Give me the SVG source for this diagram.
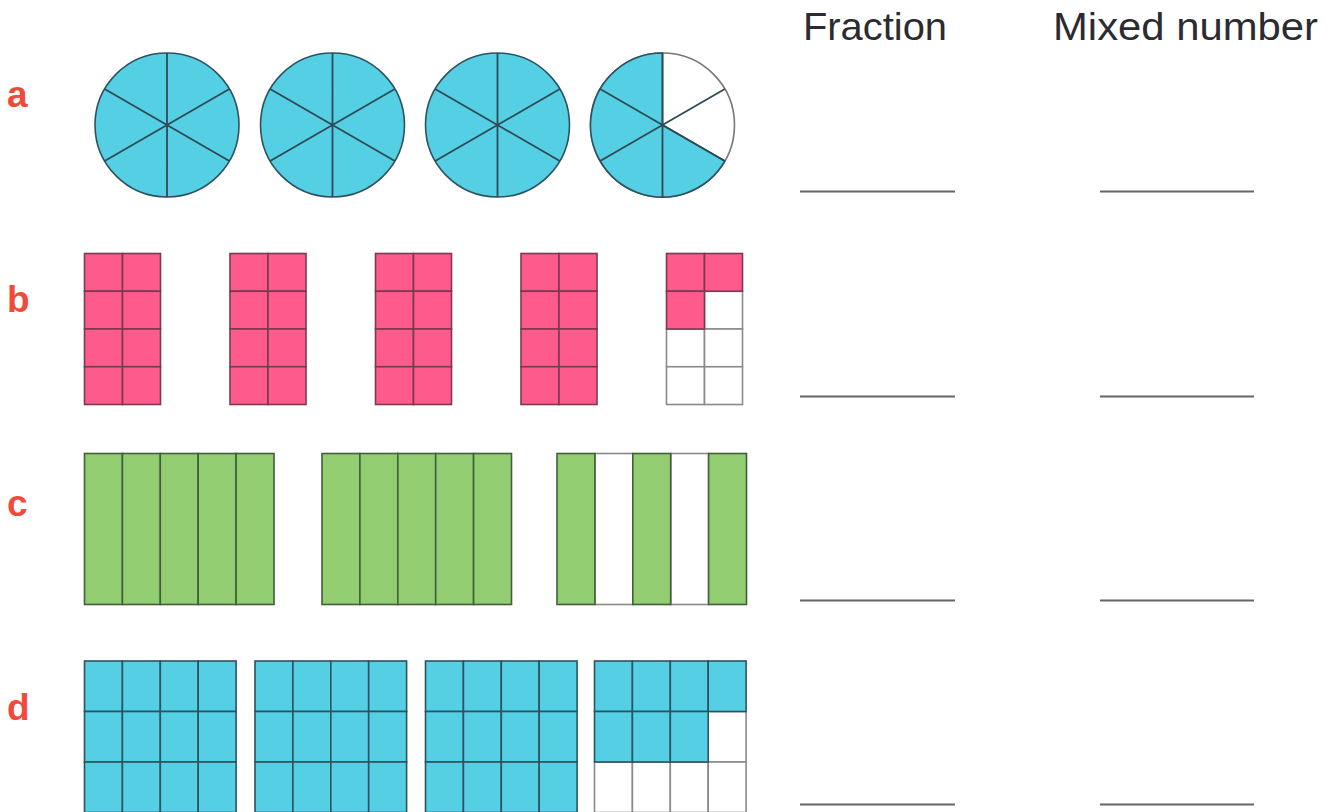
<svg xmlns="http://www.w3.org/2000/svg" width="1335" height="812" viewBox="0 0 1335 812">
<style>
.lbl{font-family:"Liberation Sans",Arial,sans-serif;font-weight:bold;font-size:37px;fill:#f24a3a}
.hdr{font-family:"Liberation Sans",Arial,sans-serif;font-size:39px;fill:#2b2b30}
.bl{fill:#55cfe3;stroke:#2d5361;stroke-width:1.6}
.pk{fill:#fe5a8c;stroke:#7b3a52;stroke-width:1.6}
.gr{fill:#92cd72;stroke:#41603a;stroke-width:1.6}
.wh{fill:#ffffff;stroke:#8a8a8a;stroke-width:1.6}
.sp{stroke:#2d4a55;stroke-width:1.8;fill:none}
.ul{stroke:#666;stroke-width:2}
</style>
<rect width="1335" height="812" fill="#fff"/>
<g id="headers">
<text class="hdr" x="803" y="40" textLength="144" lengthAdjust="spacingAndGlyphs">Fraction</text>
<text class="hdr" x="1053" y="40" textLength="265" lengthAdjust="spacingAndGlyphs">Mixed number</text>
</g>
<g id="labels">
<text class="lbl" x="7" y="107">a</text>
<text class="lbl" x="7" y="312">b</text>
<text class="lbl" x="7" y="516">c</text>
<text class="lbl" x="7" y="720">d</text>
</g>
<g id="row-a">
<g id="a1"><circle class="bl" cx="167" cy="125" r="72"/><path class="sp" d="M167 53V197M104.65 89L229.35 161M104.65 161L229.35 89"/></g>
<g id="a2"><circle class="bl" cx="332.5" cy="125" r="72"/><path class="sp" d="M332.5 53V197M270.15 89L394.85 161M270.15 161L394.85 89"/></g>
<g id="a3"><circle class="bl" cx="497.5" cy="125" r="72"/><path class="sp" d="M497.5 53V197M435.15 89L559.85 161M435.15 161L559.85 89"/></g>
<g id="a4"><circle cx="662.5" cy="125" r="72" fill="#fff" stroke="#777" stroke-width="1.6"/><path class="bl" d="M662.5 125L724.85 161A72 72 0 1 1 662.5 53Z"/><path class="sp" d="M662.5 53V197M600.15 89L724.85 161M600.15 161L724.85 89"/></g>
</g>
<g id="row-b">
<g id="b1" class="pk" transform="translate(84.5 253.5)"><rect width="38" height="37.75"/><rect x="38" width="38" height="37.75"/><rect y="37.75" width="38" height="37.75"/><rect x="38" y="37.75" width="38" height="37.75"/><rect y="75.5" width="38" height="37.75"/><rect x="38" y="75.5" width="38" height="37.75"/><rect y="113.25" width="38" height="37.75"/><rect x="38" y="113.25" width="38" height="37.75"/></g>
<g id="b2" class="pk" transform="translate(230 253.5)"><rect width="38" height="37.75"/><rect x="38" width="38" height="37.75"/><rect y="37.75" width="38" height="37.75"/><rect x="38" y="37.75" width="38" height="37.75"/><rect y="75.5" width="38" height="37.75"/><rect x="38" y="75.5" width="38" height="37.75"/><rect y="113.25" width="38" height="37.75"/><rect x="38" y="113.25" width="38" height="37.75"/></g>
<g id="b3" class="pk" transform="translate(375.5 253.5)"><rect width="38" height="37.75"/><rect x="38" width="38" height="37.75"/><rect y="37.75" width="38" height="37.75"/><rect x="38" y="37.75" width="38" height="37.75"/><rect y="75.5" width="38" height="37.75"/><rect x="38" y="75.5" width="38" height="37.75"/><rect y="113.25" width="38" height="37.75"/><rect x="38" y="113.25" width="38" height="37.75"/></g>
<g id="b4" class="pk" transform="translate(521 253.5)"><rect width="38" height="37.75"/><rect x="38" width="38" height="37.75"/><rect y="37.75" width="38" height="37.75"/><rect x="38" y="37.75" width="38" height="37.75"/><rect y="75.5" width="38" height="37.75"/><rect x="38" y="75.5" width="38" height="37.75"/><rect y="113.25" width="38" height="37.75"/><rect x="38" y="113.25" width="38" height="37.75"/></g>
<g id="b5" transform="translate(666.5 253.5)"><rect class="wh" x="38" y="37.75" width="38" height="37.75"/><rect class="wh" y="75.5" width="38" height="37.75"/><rect class="wh" x="38" y="75.5" width="38" height="37.75"/><rect class="wh" y="113.25" width="38" height="37.75"/><rect class="wh" x="38" y="113.25" width="38" height="37.75"/><rect class="pk" width="38" height="37.75"/><rect class="pk" x="38" width="38" height="37.75"/><rect class="pk" y="37.75" width="38" height="37.75"/></g>
</g>
<g id="row-c">
<g id="c1" class="gr" transform="translate(84.5 453.5)"><rect width="37.9" height="151"/><rect x="37.9" width="37.9" height="151"/><rect x="75.8" width="37.9" height="151"/><rect x="113.7" width="37.9" height="151"/><rect x="151.6" width="37.9" height="151"/></g>
<g id="c2" class="gr" transform="translate(322 453.5)"><rect width="37.9" height="151"/><rect x="37.9" width="37.9" height="151"/><rect x="75.8" width="37.9" height="151"/><rect x="113.7" width="37.9" height="151"/><rect x="151.6" width="37.9" height="151"/></g>
<g id="c3" transform="translate(557 453.5)"><rect class="wh" x="37.9" width="37.9" height="151"/><rect class="wh" x="113.7" width="37.9" height="151"/><rect class="gr" width="37.9" height="151"/><rect class="gr" x="75.8" width="37.9" height="151"/><rect class="gr" x="151.6" width="37.9" height="151"/></g>
</g>
<g id="row-d">
<g id="d1" class="bl" transform="translate(84.5 661)"><rect width="37.9" height="50.5"/><rect x="37.9" width="37.9" height="50.5"/><rect x="75.8" width="37.9" height="50.5"/><rect x="113.7" width="37.9" height="50.5"/><rect y="50.5" width="37.9" height="50.5"/><rect x="37.9" y="50.5" width="37.9" height="50.5"/><rect x="75.8" y="50.5" width="37.9" height="50.5"/><rect x="113.7" y="50.5" width="37.9" height="50.5"/><rect y="101" width="37.9" height="50.5"/><rect x="37.9" y="101" width="37.9" height="50.5"/><rect x="75.8" y="101" width="37.9" height="50.5"/><rect x="113.7" y="101" width="37.9" height="50.5"/></g>
<g id="d2" class="bl" transform="translate(255 661)"><rect width="37.9" height="50.5"/><rect x="37.9" width="37.9" height="50.5"/><rect x="75.8" width="37.9" height="50.5"/><rect x="113.7" width="37.9" height="50.5"/><rect y="50.5" width="37.9" height="50.5"/><rect x="37.9" y="50.5" width="37.9" height="50.5"/><rect x="75.8" y="50.5" width="37.9" height="50.5"/><rect x="113.7" y="50.5" width="37.9" height="50.5"/><rect y="101" width="37.9" height="50.5"/><rect x="37.9" y="101" width="37.9" height="50.5"/><rect x="75.8" y="101" width="37.9" height="50.5"/><rect x="113.7" y="101" width="37.9" height="50.5"/></g>
<g id="d3" class="bl" transform="translate(425.5 661)"><rect width="37.9" height="50.5"/><rect x="37.9" width="37.9" height="50.5"/><rect x="75.8" width="37.9" height="50.5"/><rect x="113.7" width="37.9" height="50.5"/><rect y="50.5" width="37.9" height="50.5"/><rect x="37.9" y="50.5" width="37.9" height="50.5"/><rect x="75.8" y="50.5" width="37.9" height="50.5"/><rect x="113.7" y="50.5" width="37.9" height="50.5"/><rect y="101" width="37.9" height="50.5"/><rect x="37.9" y="101" width="37.9" height="50.5"/><rect x="75.8" y="101" width="37.9" height="50.5"/><rect x="113.7" y="101" width="37.9" height="50.5"/></g>
<g id="d4" transform="translate(594.5 661)"><rect class="wh" x="113.7" y="50.5" width="37.9" height="50.5"/><rect class="wh" y="101" width="37.9" height="50.5"/><rect class="wh" x="37.9" y="101" width="37.9" height="50.5"/><rect class="wh" x="75.8" y="101" width="37.9" height="50.5"/><rect class="wh" x="113.7" y="101" width="37.9" height="50.5"/><rect class="bl" width="37.9" height="50.5"/><rect class="bl" x="37.9" width="37.9" height="50.5"/><rect class="bl" x="75.8" width="37.9" height="50.5"/><rect class="bl" x="113.7" width="37.9" height="50.5"/><rect class="bl" y="50.5" width="37.9" height="50.5"/><rect class="bl" x="37.9" y="50.5" width="37.9" height="50.5"/><rect class="bl" x="75.8" y="50.5" width="37.9" height="50.5"/></g>
</g>
<g id="answer-lines">
<line class="ul" x1="800" y1="191.5" x2="955" y2="191.5"/><line class="ul" x1="1100" y1="191.5" x2="1254" y2="191.5"/>
<line class="ul" x1="800" y1="396.5" x2="955" y2="396.5"/><line class="ul" x1="1100" y1="396.5" x2="1254" y2="396.5"/>
<line class="ul" x1="800" y1="600.5" x2="955" y2="600.5"/><line class="ul" x1="1100" y1="600.5" x2="1254" y2="600.5"/>
<line class="ul" x1="800" y1="804.5" x2="955" y2="804.5"/><line class="ul" x1="1100" y1="804.5" x2="1254" y2="804.5"/>
</g>
</svg>
